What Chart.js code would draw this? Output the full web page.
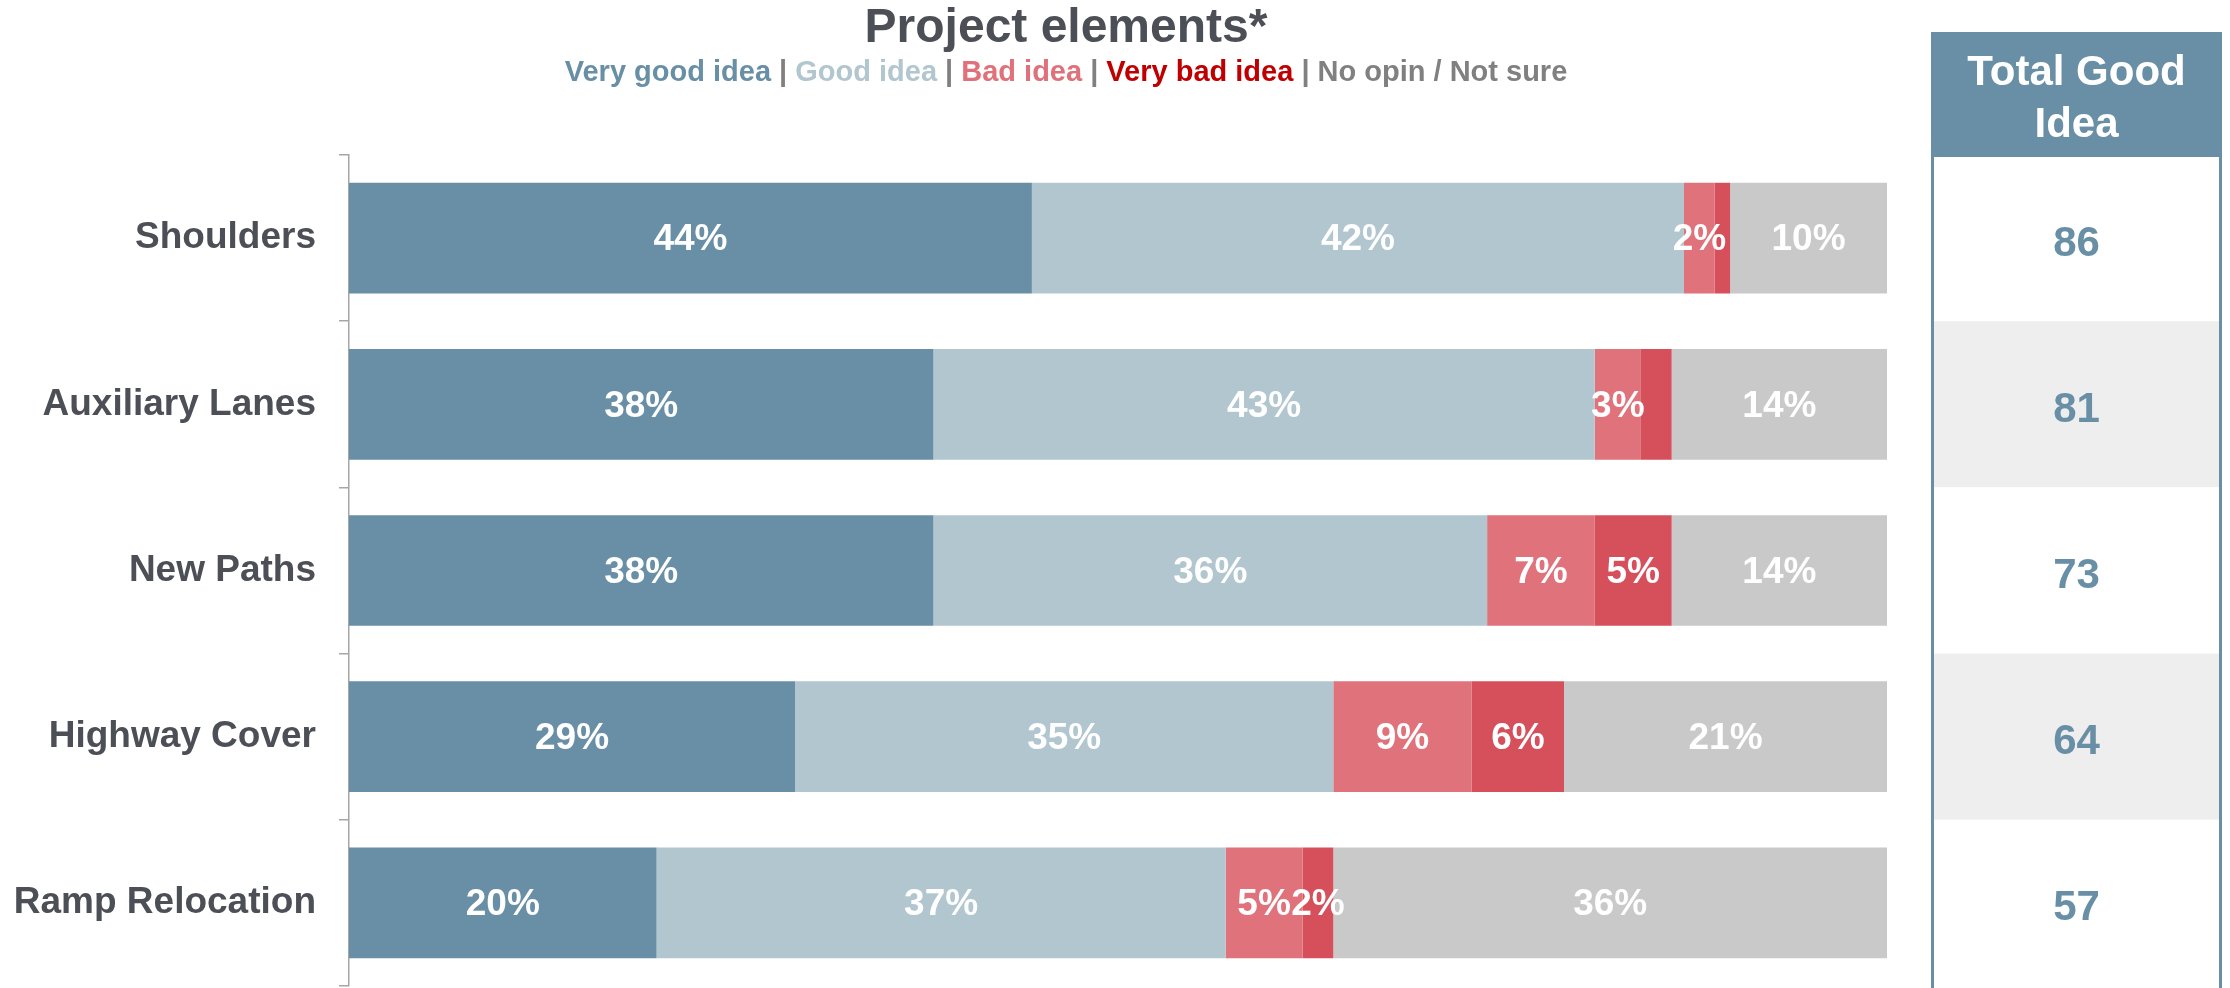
<!DOCTYPE html>
<html>
<head>
<meta charset="utf-8">
<script src="https://cdn.jsdelivr.net/npm/chart.js@4.4.1/dist/chart.umd.min.js"></script>
<style>
  html, body { margin: 0; padding: 0; background: #fff; }
  #wrap { width: 2230px; height: 988px; position: relative; }
</style>
</head>
<body>
<div id="wrap"><canvas id="chart" width="2230" height="988"></canvas></div>
<script>
// === DATA ===
const categories = ["Shoulders", "Auxiliary Lanes", "New Paths", "Highway Cover", "Ramp Relocation"];
const veryGood  = [44.4, 38, 38, 29, 20];
const good      = [42.4, 43, 36, 35, 37];
const bad       = [2, 3, 7, 9, 5];
const veryBad   = [1, 2, 5, 6, 2];
const noOpinion = [10.2, 14, 14, 21, 36];
const totalGood = [86, 81, 73, 64, 57];
const seriesNames = ["Very good idea", "Good idea", "Bad idea", "Very bad idea", "No opin / Not sure"];
const veryBadLabelShown = [false, false, true, true, true];

// === STYLE ===
const FONT = "'Liberation Sans', Arial, Helvetica, sans-serif";
const barColors = ["#688fa5", "#b2c6cf", "#df727b", "#d6505c", "#c9c9c9"];
const legendColors = ["#688fa5", "#b2c6cf", "#e07079", "#c00000", "#808080"];
const darkText = "#4d4f57";
const tableLeft = 1931, tableRight = 2222, tableTop = 32;

Chart.defaults.font.family = FONT;

const seriesData = [veryGood, good, bad, veryBad, noOpinion];
const datasets = seriesData.map((d, i) => ({
  label: seriesNames[i],
  data: d,
  backgroundColor: barColors[i],
  borderWidth: 0,
  barPercentage: 1,
  categoryPercentage: 0.666
}));

// white % labels in the middle of each segment
const segmentLabels = {
  id: "segmentLabels",
  afterDatasetsDraw(chart) {
    const ctx = chart.ctx;
    ctx.save();
    ctx.font = "bold 37px " + FONT;
    ctx.fillStyle = "#ffffff";
    ctx.textAlign = "center";
    ctx.textBaseline = "middle";
    chart.data.datasets.forEach((ds, i) => {
      const meta = chart.getDatasetMeta(i);
      meta.data.forEach((el, j) => {
        if (i === 3 && !veryBadLabelShown[j]) return;
        const v = Math.round(ds.data[j]);
        ctx.fillText(v + "%", (el.x + el.base) / 2, el.y + 2);
      });
    });
    ctx.restore();
  }
};

// title + coloured legend line
const header = {
  id: "header",
  afterDraw(chart) {
    const ctx = chart.ctx;
    const cx = 1066;
    ctx.save();
    ctx.textBaseline = "middle";
    ctx.textAlign = "center";
    ctx.fillStyle = darkText;
    ctx.font = "bold 48px " + FONT;
    ctx.fillText("Project elements*", cx, 29);

    ctx.font = "bold 29px " + FONT;
    const sep = " | ";
    const sepW = ctx.measureText(sep).width;
    let total = 0;
    seriesNames.forEach((n, i) => {
      total += ctx.measureText(n).width;
      if (i < seriesNames.length - 1) total += sepW;
    });
    let x = cx - total / 2;
    ctx.textAlign = "left";
    seriesNames.forEach((n, i) => {
      ctx.fillStyle = legendColors[i];
      ctx.fillText(n, x, 73);
      x += ctx.measureText(n).width;
      if (i < seriesNames.length - 1) {
        ctx.fillStyle = "#808080";
        ctx.fillText(sep, x, 73);
        x += sepW;
      }
    });
    ctx.restore();
  }
};

// "Total Good Idea" table, rows follow the category scale
const totalTable = {
  id: "totalTable",
  afterDraw(chart) {
    const ctx = chart.ctx;
    const y = chart.scales.y;
    const band = (y.bottom - y.top) / categories.length;
    ctx.save();
    categories.forEach((c, i) => {
      const mid = y.getPixelForValue(i);
      ctx.fillStyle = i % 2 ? "#eeeeee" : "#ffffff";
      ctx.fillRect(tableLeft, mid - band / 2, tableRight - tableLeft, band);
      ctx.fillStyle = "#688fa5";
      ctx.font = "bold 42px " + FONT;
      ctx.textAlign = "center";
      ctx.textBaseline = "middle";
      ctx.fillText(String(totalGood[i]), (tableLeft + tableRight) / 2, mid + 6);
    });
    ctx.fillStyle = "#688fa5";
    ctx.fillRect(tableLeft, tableTop, tableRight - tableLeft, y.top + 2 - tableTop);
    ctx.fillStyle = "#ffffff";
    ctx.font = "bold 42px " + FONT;
    ctx.textAlign = "center";
    ctx.textBaseline = "middle";
    ctx.fillText("Total Good", (tableLeft + tableRight) / 2, 73);
    ctx.fillText("Idea", (tableLeft + tableRight) / 2, 125);
    ctx.strokeStyle = "#688fa5";
    ctx.lineWidth = 3;
    ctx.beginPath();
    ctx.moveTo(tableLeft + 1.5, tableTop);
    ctx.lineTo(tableLeft + 1.5, 988);
    ctx.moveTo(tableRight - 1.5, tableTop);
    ctx.lineTo(tableRight - 1.5, 988);
    ctx.stroke();
    ctx.restore();
  }
};

new Chart(document.getElementById("chart"), {
  type: "bar",
  data: { labels: categories, datasets: datasets },
  options: {
    indexAxis: "y",
    responsive: false,
    animation: false,
    devicePixelRatio: 1,
    layout: { padding: { top: 155, right: 343, bottom: 2, left: 0 } },
    plugins: { legend: { display: false }, tooltip: { enabled: false }, title: { display: false } },
    scales: {
      x: { stacked: true, min: 0, max: 100, display: false },
      y: {
        stacked: true,
        afterFit: s => { s.width = 349; s.paddingTop = 0; s.paddingBottom = 0; },
        border: { color: "#a6a6a6", width: 1.5 },
        grid: { drawOnChartArea: false, offset: true, tickLength: 10, color: "#a6a6a6", lineWidth: 1.5 },
        ticks: { color: darkText, padding: 23, font: { size: 37, weight: "bold" } }
      }
    }
  },
  plugins: [segmentLabels, header, totalTable]
});
</script>
</body>
</html>
